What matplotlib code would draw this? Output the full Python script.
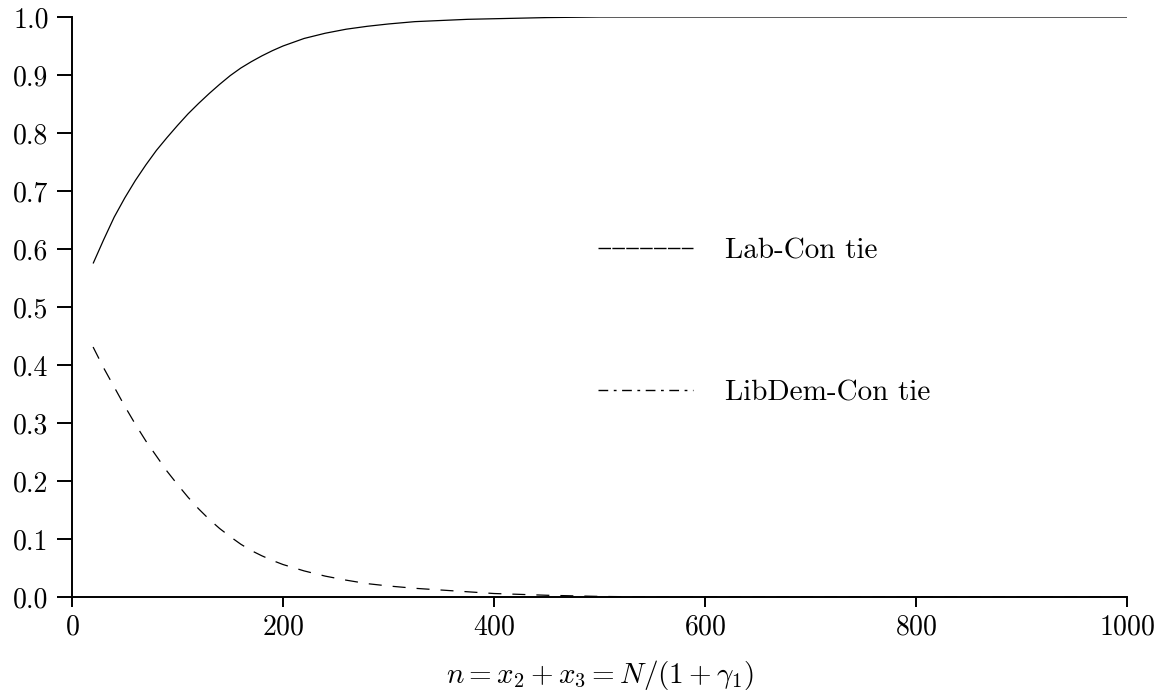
import matplotlib
matplotlib.use('Agg')
import matplotlib.pyplot as plt
from matplotlib.lines import Line2D
import numpy as np

# values
n = [20, 30, 40, 50, 60, 70, 80, 90, 100, 110, 120, 130, 140, 150, 160,
     170, 180, 190, 200, 220, 240, 260, 280, 300, 325, 350, 375, 400, 450,
     500, 550, 600, 700, 800, 900, 1000]
lab_con = [0.575, 0.616, 0.655, 0.688, 0.718, 0.745, 0.770, 0.792, 0.813,
           0.833, 0.851, 0.868, 0.884, 0.899, 0.912, 0.923, 0.933, 0.942,
           0.950, 0.963, 0.972, 0.979, 0.984, 0.988, 0.992, 0.994, 0.996,
           0.997, 0.999, 1.0, 1.0, 1.0, 1.0, 1.0, 1.0, 1.0]
libdem_con = [0.431, 0.395, 0.362, 0.329, 0.298, 0.269, 0.243, 0.217, 0.194,
              0.172, 0.152, 0.134, 0.118, 0.104, 0.091, 0.080, 0.071, 0.063,
              0.056, 0.045, 0.036, 0.029, 0.023, 0.019, 0.015, 0.012, 0.009,
              0.006, 0.003, 0.001, 0.0, 0.0, 0.0, 0.0, 0.0, 0.0]
labels = ['Lab-Con tie', 'LibDem-Con tie']
xticks = [0, 200, 400, 600, 800, 1000]
yticks = np.round(np.arange(0, 1.01, 0.1), 1)

plt.rcParams['font.family'] = 'serif'
plt.rcParams['font.serif'] = ['cmr10']
plt.rcParams['mathtext.fontset'] = 'cm'
plt.rcParams['axes.formatter.use_mathtext'] = True
plt.rcParams['font.size'] = 20

fig = plt.figure(figsize=(11.63, 6.98), dpi=100)
ax = fig.add_axes([72/1163, 1 - 597/698, 1055/1163, 580/698])

ax.plot(n, lab_con, color='k', lw=0.9, solid_capstyle='butt')
ax.plot(n, libdem_con, color='k', lw=0.9, dashes=(10.4, 8.8))

ax.set_xlim(0, 1000)
ax.set_ylim(0, 1.0)
ax.set_xticks(xticks)
ax.set_yticks(yticks)
ax.set_yticklabels(['%.1f' % v for v in yticks])
ax.spines['top'].set_visible(False)
ax.spines['right'].set_visible(False)
for s in ['left', 'bottom']:
    ax.spines[s].set_linewidth(1.4)
ax.tick_params(axis='y', direction='out', length=10.8, width=1.4, pad=6.0)
ax.tick_params(axis='x', direction='out', length=7.2, width=1.4, pad=5.5)
ax.set_xlabel(r'$n = x_2 + x_3 = N/(1 + \gamma_1)$', fontsize=21, labelpad=12)

# legend handles drawn like the original figure
h1 = Line2D([], [], color='k', lw=1.0, dashes=(9, 1))
h2 = Line2D([], [], color='k', lw=1.0, dashes=(7, 4, 2, 4))
ax.legend([h1, h2], labels, loc='upper left', bbox_to_anchor=(0.4986, 0.619),
          frameon=False, borderpad=0, borderaxespad=0, handlelength=3.25,
          handletextpad=1.1, labelspacing=3.95, fontsize=21)

fig.savefig('out.png', dpi=100)
